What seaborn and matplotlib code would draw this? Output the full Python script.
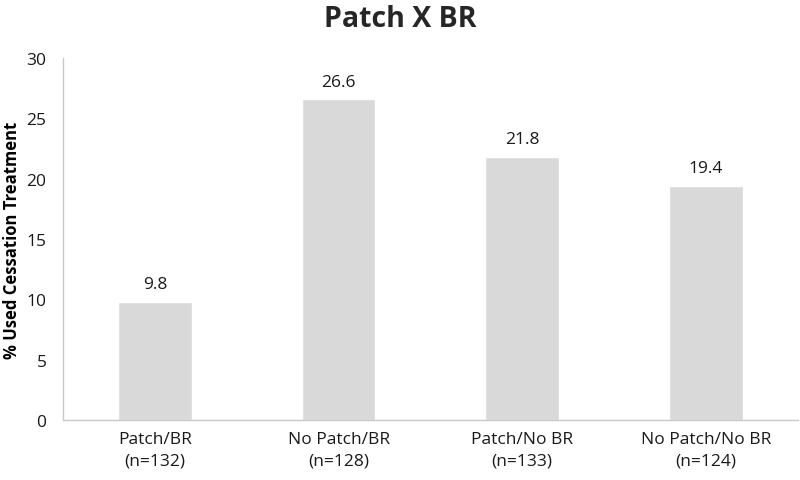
import matplotlib
matplotlib.use("Agg")
import matplotlib.pyplot as plt
import seaborn as sns
import pandas as pd

# ── Data ──────────────────────────────────────────────
categories = ["Patch/BR\n(n=132)", "No Patch/BR\n(n=128)",
              "Patch/No BR\n(n=133)", "No Patch/No BR\n(n=124)"]
values = [9.8, 26.6, 21.8, 19.4]
y_ticks = [0, 5, 10, 15, 20, 25, 30]

sns.set_theme(style="white")
plt.rcParams["font.family"] = ["Open Sans", "DejaVu Sans"]

df = pd.DataFrame({"group": categories, "pct": values})

fig = plt.figure(figsize=(8, 4.81), dpi=100)
ax = fig.add_axes([0.079, 0.125, 0.918, 0.752])
sns.barplot(data=df, x="group", y="pct", color="#d9d9d9", width=0.4,
            saturation=1, ax=ax)

for i, v in enumerate(values):
    ax.text(i, v + 0.8, f"{v:.1f}", ha="center", va="bottom", fontsize=12.5,
            color="#1a1a1a")

ax.set_ylim(0, 30)
ax.set_yticks(y_ticks)
ax.set_xlim(-0.5, len(categories) - 0.5)
ax.tick_params(axis="both", length=0, labelsize=12.5, labelcolor="#1a1a1a")
ax.tick_params(axis="x", pad=8)
ax.tick_params(axis="y", pad=12)
for lbl in ax.get_xticklabels():
    lbl.set_linespacing(1.5)
ax.set_xlabel("")
ax.set_ylabel("% Used Cessation Treatment", fontsize=12, weight="bold",
              color="#000000", labelpad=4)
for side in ["top", "right"]:
    ax.spines[side].set_visible(False)
for side in ["left", "bottom"]:
    ax.spines[side].set_color("#c8c8c8")
    ax.spines[side].set_linewidth(1)

fig.suptitle("Patch X BR", fontsize=20.5, weight="bold", y=0.99)
fig.savefig("out.png", dpi=100)
